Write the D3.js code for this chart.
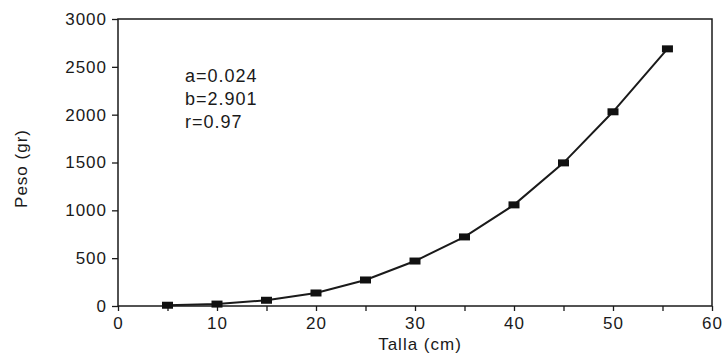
<!DOCTYPE html>
<html>
<head>
<meta charset="utf-8">
<script src="https://cdn.jsdelivr.net/npm/d3@7"></script>
<style>
  body { margin: 0; background: #fff; }
  svg text { font-family: "Liberation Sans", Arial, sans-serif; fill: #1a1a1a; letter-spacing: 1px; }
</style>
</head>
<body>
<svg id="chart" width="722" height="361"></svg>
<script>
// data
const talla = [5, 10, 15, 20, 25, 30, 35, 40, 45, 50, 55.5];
const peso = [8, 20, 60, 136, 272, 470, 722, 1057, 1496, 2030, 2688];
const xTicks = [0, 5, 10, 15, 20, 25, 30, 35, 40, 45, 50, 55, 60];
const yTicks = [0, 500, 1000, 1500, 2000, 2500, 3000];
const params = ['a=0.024', 'b=2.901', 'r=0.97'];

const margin = { top: 19, right: 10, bottom: 55, left: 118 };
const width = 722 - margin.left - margin.right;
const height = 361 - margin.top - margin.bottom;
const ink = '#1a1a1a';
const fontSize = '17px';

const svg = d3.select('#chart');
const g = svg.append('g').attr('transform', `translate(${margin.left},${margin.top})`);

const x = d3.scaleLinear().domain([0, 60]).range([0, width]);
const y = d3.scaleLinear().domain([0, 3000]).range([height, 0]);

// frame
g.append('rect')
  .attr('width', width)
  .attr('height', height)
  .attr('fill', 'none')
  .attr('stroke', ink)
  .attr('stroke-width', 1.5);

// x axis
const xAxis = g.append('g')
  .attr('transform', `translate(0,${height})`)
  .call(d3.axisBottom(x).tickValues(xTicks).tickSize(5).tickPadding(6)
    .tickFormat((d) => (d % 10 === 0 ? d : '')));
xAxis.select('.domain').remove();
xAxis.selectAll('line').attr('stroke', ink).attr('stroke-width', 1.3);
xAxis.selectAll('text').style('font-size', fontSize).attr('fill', ink);

// y axis
const yAxis = g.append('g')
  .call(d3.axisLeft(y).tickValues(yTicks).tickSize(6).tickPadding(5).tickFormat(d3.format('d')));
yAxis.select('.domain').remove();
yAxis.selectAll('line').attr('stroke', ink).attr('stroke-width', 1.3);
yAxis.selectAll('text').style('font-size', fontSize).attr('fill', ink);

// axis titles
svg.append('text')
  .attr('x', margin.left + width / 2 + 5)
  .attr('y', 350)
  .attr('text-anchor', 'middle')
  .style('font-size', fontSize)
  .text('Talla (cm)');

svg.append('text')
  .attr('transform', `translate(27,${margin.top + height / 2 + 6}) rotate(-90)`)
  .attr('text-anchor', 'middle')
  .style('font-size', fontSize)
  .text('Peso (gr)');

// curve
const pts = talla.map((t, i) => [t, peso[i]]);
g.append('path')
  .datum(pts)
  .attr('fill', 'none')
  .attr('stroke', ink)
  .attr('stroke-width', 2)
  .attr('d', d3.line().x((d) => x(d[0])).y((d) => y(d[1])));

// markers
g.selectAll('rect.mark')
  .data(pts)
  .join('rect')
  .attr('class', 'mark')
  .attr('x', (d) => x(d[0]) - 5.5)
  .attr('y', (d) => y(d[1]) - 3.5)
  .attr('width', 11)
  .attr('height', 7)
  .attr('fill', '#111');

// fit parameters
svg.append('g')
  .selectAll('text')
  .data(params)
  .join('text')
  .attr('x', 185)
  .attr('y', (d, i) => 82 + i * 23)
  .style('font-size', '18px')
  .text((d) => d);
</script>
</body>
</html>
